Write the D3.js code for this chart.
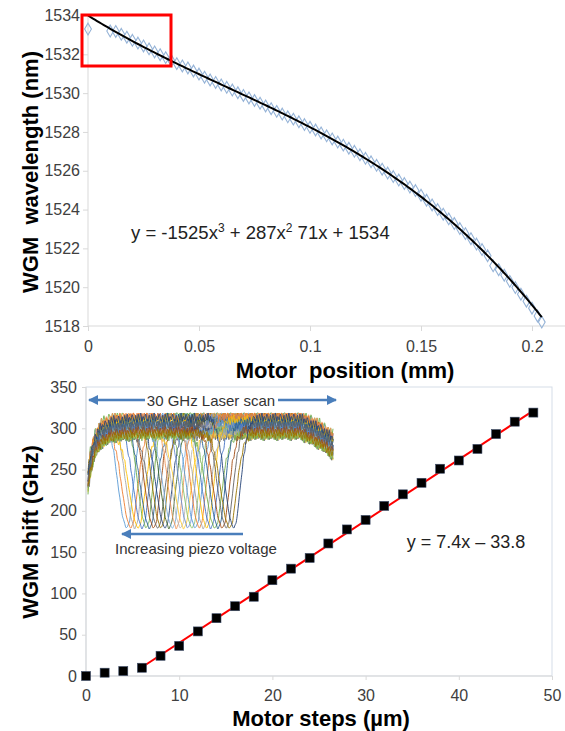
<!DOCTYPE html>
<html>
<head>
<meta charset="utf-8">
<script src="https://cdn.jsdelivr.net/npm/d3@7"></script>
<style>
  body { margin: 0; background: #fff; }
  text { font-family: "Liberation Sans", Arial, sans-serif; }
</style>
</head>
<body>
<script>
// ---- top chart: WGM wavelength vs motor position ----
const posX = [0, 0.010, 0.0125, 0.015, 0.0175, 0.02, 0.0225, 0.025, 0.0275, 0.03,
  0.0325, 0.035, 0.0375, 0.04, 0.0425, 0.045, 0.0475, 0.05, 0.0525, 0.055,
  0.0575, 0.06, 0.0625, 0.065, 0.0675, 0.07, 0.0725, 0.075, 0.0775, 0.08,
  0.0825, 0.085, 0.0875, 0.09, 0.0925, 0.095, 0.0975, 0.1, 0.1025, 0.105,
  0.1075, 0.11, 0.1125, 0.115, 0.1175, 0.12, 0.1225, 0.125, 0.1275, 0.13,
  0.1325, 0.135, 0.1375, 0.14, 0.1425, 0.145, 0.1475, 0.15, 0.1525, 0.155,
  0.1575, 0.16, 0.1625, 0.165, 0.1675, 0.17, 0.1725, 0.175, 0.1775, 0.18,
  0.1825, 0.185, 0.1875, 0.19, 0.1925, 0.195, 0.1975, 0.2, 0.2025, 0.2044];
const wavelength = [1533.30, 1533.20, 1533.18, 1533.03, 1532.88, 1532.72, 1532.58, 1532.43, 1532.28, 1532.12,
  1531.98, 1531.83, 1531.68, 1531.52, 1531.40, 1531.30, 1531.14, 1530.98, 1530.82, 1530.68,
  1530.55, 1530.42, 1530.30, 1530.16, 1530.02, 1529.88, 1529.75, 1529.62, 1529.48, 1529.34,
  1529.20, 1529.06, 1528.92, 1528.78, 1528.66, 1528.52, 1528.38, 1528.24, 1528.10, 1527.95,
  1527.80, 1527.64, 1527.48, 1527.32, 1527.16, 1527.00, 1526.82, 1526.64, 1526.46, 1526.28,
  1526.08, 1525.88, 1525.70, 1525.52, 1525.34, 1525.16, 1524.98, 1524.74, 1524.48, 1524.24,
  1524.00, 1523.76, 1523.52, 1523.28, 1523.02, 1522.76, 1522.50, 1522.22, 1521.94, 1521.62,
  1521.10, 1520.90, 1520.62, 1520.30, 1519.98, 1519.64, 1519.28, 1518.92, 1518.52, 1518.20];
const cubicFit = [-1525, 287, -71, 1534]; // x^3, x^2, x, 1
const posTicks = [0, 0.05, 0.1, 0.15, 0.2];
const wlTicks = [1518, 1520, 1522, 1524, 1526, 1528, 1530, 1532, 1534];

// ---- bottom chart: WGM shift vs motor steps ----
const steps = [0, 2, 4, 6, 8, 10, 12, 14, 16, 18, 20, 22, 24, 26, 28, 30, 32, 34, 36, 38, 40, 42, 44, 46, 48];
const shift = [0, 4, 6, 10, 24.5, 36.5, 54, 70, 84.5, 96, 116, 130, 143, 160.5, 177.5, 189, 206, 220, 234, 251, 261, 275, 293, 308, 319];
const linFit = [7.4, -33.8]; // slope, intercept
const linRange = [6, 48];
const stepTicks = [0, 10, 20, 30, 40, 50];
const shiftTicks = [0, 50, 100, 150, 200, 250, 300, 350];

// ---- inset: laser scan traces (GHz), one dip per piezo voltage ----
const dipCenters = [4.7, 5.2, 5.7, 6.1, 6.6, 7.1, 7.5, 8.0, 8.5, 8.9, 9.4, 9.9, 10.3, 10.8, 11.3,
  11.7, 12.2, 12.7, 13.1, 13.6, 14.1, 14.5, 15.0, 15.5, 15.9, 16.4, 16.9, 17.3, 17.8];
const traceLevels = [0.02, 0.12, 0.06, 0.18, 0.1, 0.0, 0.15, 0.08, 0.2, 0.04, 0.13, 0.07, 0.17, 0.01, 0.11,
  0.19, 0.05, 0.14, 0.09, 0.03, 0.16, 0.06, 0.12, 0.2, 0.08, 0.15, 0.1, 0.18, 0.04];
const dipShape = [[-2.8, 0], [-2.1, 0.1], [-1.5, 0.33], [-1.0, 0.62], [-0.5, 0.88], [0, 1],
  [0.4, 0.93], [0.8, 0.66], [1.3, 0.32], [1.9, 0.09], [2.6, 0]];
const edgeShape = [[0, 0.42], [0.3, 0.3], [0.8, 0.16], [1.6, 0.07], [3, 0.02], [6, 0], [26, 0], [28.5, 0.08], [30, 0.16]];
const ripple = [0, 0.03, -0.02, 0.04, -0.03, 0.02, -0.04, 0.03, -0.01, 0.02, -0.03];
const traceColors = ["#5b9bd5", "#ed7d31", "#a5a5a5", "#ffc000", "#4472c4", "#70ad47", "#255e91", "#9e480e",
  "#636363", "#997300", "#264478", "#43682b", "#7cafdd", "#f1975a", "#b7b7b7", "#ffcd33", "#698ed0", "#8cc168"];

const W = 565, H = 731;
const svg = d3.select('body').append('svg')
    .attr('width', W)
    .attr('height', H);

const axisGray = "#d9d9d9";
const labelColor = "#404040";
const tickFont = '16px';
const titleFont = '22px';

// ================= TOP CHART =================
const x1 = d3.scaleLinear().domain([0, 0.25]).range([88, 643]);
const y1 = d3.scaleLinear().domain([1518, 1534]).range([326, 15.5]);

const topG = svg.append('g');

topG.append('line')
    .attr('x1', 88).attr('x2', W)
    .attr('y1', y1(1518)).attr('y2', y1(1518))
    .attr('stroke', axisGray);
topG.append('line')
    .attr('x1', 88).attr('x2', 88)
    .attr('y1', y1(1534)).attr('y2', y1(1518))
    .attr('stroke', axisGray);

const gx1 = topG.append('g')
    .attr('transform', `translate(0,${y1(1518)})`)
    .call(d3.axisBottom(x1).tickValues(posTicks).tickSize(5).tickSizeOuter(0)
        .tickFormat(d => d3.format("~g")(d)));
const gy1 = topG.append('g')
    .attr('transform', 'translate(88,0)')
    .call(d3.axisLeft(y1).tickValues(wlTicks).tickSize(5).tickSizeOuter(0)
        .tickFormat(d3.format("d")));

[gx1, gy1].forEach(g => {
    g.select('.domain').remove();
    g.selectAll('.tick line').attr('stroke', axisGray);
    g.selectAll('.tick text')
        .attr('fill', labelColor)
        .style('font-size', tickFont)
        .style('font-family', '"Liberation Sans", Arial, sans-serif');
});
gx1.selectAll('.tick text').attr('dy', '1.1em');
gy1.selectAll('.tick text').attr('x', -8);

// data diamonds
const diamond = d3.symbol().type(d3.symbolDiamond).size(40);
topG.append('g')
    .selectAll('path')
    .data(posX.map((p, i) => ({ p: p, w: wavelength[i] })))
    .enter()
    .append('path')
    .attr('d', diamond)
    .attr('transform', d => `translate(${x1(d.p)},${y1(d.w)})`)
    .attr('fill', 'none')
    .attr('stroke', '#95b3d7')
    .attr('stroke-width', 1.1);

// cubic trendline from the printed coefficients
const fitX = d3.range(0, 201).map(i => i / 200 * posX[posX.length - 1]);
const cubic = p => cubicFit[0] * p * p * p + cubicFit[1] * p * p + cubicFit[2] * p + cubicFit[3];
topG.append('path')
    .datum(fitX)
    .attr('fill', 'none')
    .attr('stroke', '#000')
    .attr('stroke-width', 2)
    .attr('d', d3.line().x(d => x1(d)).y(d => y1(cubic(d))));

topG.append('text')
    .attr('x', 131).attr('y', 239)
    .attr('fill', '#222')
    .style('font-size', '18.5px')
    .html('y = -1525x<tspan dy="-7" font-size="12">3</tspan><tspan dy="7"> + 287x</tspan><tspan dy="-7" font-size="12">2</tspan><tspan dy="7"> 71x + 1534</tspan>');

// highlight box
topG.append('rect')
    .attr('x', 82).attr('y', 15)
    .attr('width', 89).attr('height', 51)
    .attr('fill', 'none')
    .attr('stroke', '#ff0000')
    .attr('stroke-width', 3);

topG.append('text')
    .attr('x', 345).attr('y', 378)
    .attr('text-anchor', 'middle')
    .attr('fill', '#000')
    .style('font-size', titleFont)
    .style('font-weight', 'bold')
    .style('white-space', 'pre')
    .text('Motor  position (mm)');

topG.append('text')
    .attr('transform', 'translate(38,172) rotate(-90)')
    .attr('text-anchor', 'middle')
    .attr('fill', '#000')
    .style('font-size', titleFont)
    .style('font-weight', 'bold')
    .style('white-space', 'pre')
    .text('WGM  wavelength (nm)');

// ================= BOTTOM CHART =================
const x2 = d3.scaleLinear().domain([0, 50]).range([86, 552]);
const y2 = d3.scaleLinear().domain([0, 350]).range([676, 387]);

const bot = svg.append('g');

bot.append('rect')
    .attr('x', x2(0)).attr('y', y2(350))
    .attr('width', x2(50) - x2(0)).attr('height', y2(0) - y2(350))
    .attr('fill', 'none')
    .attr('stroke', '#d5dde8');
bot.append('line')
    .attr('x1', x2(0)).attr('x2', x2(50))
    .attr('y1', y2(0)).attr('y2', y2(0))
    .attr('stroke', axisGray);
bot.append('line')
    .attr('x1', x2(0)).attr('x2', x2(0))
    .attr('y1', y2(0)).attr('y2', y2(350))
    .attr('stroke', axisGray);

const gx2 = bot.append('g')
    .attr('transform', `translate(0,${y2(0)})`)
    .call(d3.axisBottom(x2).tickValues(stepTicks).tickSize(4).tickSizeOuter(0));
const gy2 = bot.append('g')
    .attr('transform', `translate(${x2(0)},0)`)
    .call(d3.axisLeft(y2).tickValues(shiftTicks).tickSize(4).tickSizeOuter(0));

[gx2, gy2].forEach(g => {
    g.select('.domain').remove();
    g.selectAll('.tick line').attr('stroke', axisGray);
    g.selectAll('.tick text')
        .attr('fill', labelColor)
        .style('font-size', tickFont)
        .style('font-family', '"Liberation Sans", Arial, sans-serif');
});
gx2.selectAll('.tick text').attr('dy', '1.15em');
gy2.selectAll('.tick text').attr('x', -9);

// ---- inset picture of laser scan traces ----
const ix = d3.scaleLinear().domain([0, 30]).range([88, 333]);
const iy = d3.scaleLinear().domain([0, 1]).range([413, 529]);
const interp = (shape, v) => {
    if (v <= shape[0][0] || v >= shape[shape.length - 1][0]) {
        return v <= shape[0][0] ? shape[0][1] : shape[shape.length - 1][1];
    }
    const i = d3.bisector(d => d[0]).right(shape, v);
    const a = shape[i - 1], b = shape[i];
    return a[1] + (b[1] - a[1]) * (v - a[0]) / (b[0] - a[0]);
};
const scanPts = d3.range(0, 30.01, 0.15);
const inset = bot.append('g');
inset.selectAll('path')
    .data(dipCenters)
    .enter()
    .append('path')
    .attr('fill', 'none')
    .attr('stroke', (d, i) => traceColors[i % traceColors.length])
    .attr('stroke-width', 1)
    .attr('opacity', 0.9)
    .attr('d', (c, k) => d3.line()
        .curve(d3.curveMonotoneX)
        .x(v => ix(v))
        .y((v, j) => {
            const dip = interp(dipShape, v - c);
            const base = traceLevels[k] + interp(edgeShape, v) * 1.1 + ripple[(j + k * 3) % ripple.length] * (1 - dip);
            return iy(Math.max(0, Math.min(1, base * (1 - dip) + dip)));
        })
        (scanPts));

// arrows in the inset
const arrowBlue = '#4a7ebb';
const defs = svg.append('defs');
defs.append('marker')
    .attr('id', 'ah')
    .attr('viewBox', '0 0 10 10')
    .attr('refX', 9).attr('refY', 5)
    .attr('markerWidth', 4).attr('markerHeight', 4)
    .attr('orient', 'auto-start-reverse')
    .append('path')
    .attr('d', 'M0,0 L10,5 L0,10 z')
    .attr('fill', arrowBlue);

bot.append('line')
    .attr('x1', 145).attr('x2', 89)
    .attr('y1', 400).attr('y2', 400)
    .attr('stroke', arrowBlue).attr('stroke-width', 2.5)
    .attr('marker-end', 'url(#ah)');
bot.append('line')
    .attr('x1', 278).attr('x2', 336)
    .attr('y1', 400).attr('y2', 400)
    .attr('stroke', arrowBlue).attr('stroke-width', 2.5)
    .attr('marker-end', 'url(#ah)');
bot.append('text')
    .attr('x', 211).attr('y', 405.5)
    .attr('text-anchor', 'middle')
    .attr('fill', '#333')
    .style('font-size', '15px')
    .text('30 GHz Laser scan');

bot.append('line')
    .attr('x1', 243).attr('x2', 122)
    .attr('y1', 534).attr('y2', 534)
    .attr('stroke', arrowBlue).attr('stroke-width', 2.5)
    .attr('marker-end', 'url(#ah)');
bot.append('text')
    .attr('x', 196).attr('y', 554)
    .attr('text-anchor', 'middle')
    .attr('fill', '#333')
    .style('font-size', '15px')
    .text('Increasing piezo voltage');

// linear trendline
bot.append('line')
    .attr('x1', x2(linRange[0])).attr('y1', y2(linFit[0] * linRange[0] + linFit[1]))
    .attr('x2', x2(linRange[1])).attr('y2', y2(linFit[0] * linRange[1] + linFit[1]))
    .attr('stroke', '#ff0000')
    .attr('stroke-width', 2);

// square markers
bot.append('g')
    .selectAll('rect')
    .data(steps.map((s, i) => ({ s: s, v: shift[i] })))
    .enter()
    .append('rect')
    .attr('x', d => x2(d.s) - 4.5)
    .attr('y', d => y2(d.v) - 4.5)
    .attr('width', 9).attr('height', 9)
    .attr('fill', '#000')
    .attr('stroke', '#3b4a66')
    .attr('stroke-width', 0.6);

bot.append('text')
    .attr('x', 466).attr('y', 548)
    .attr('text-anchor', 'middle')
    .attr('fill', '#222')
    .style('font-size', '18px')
    .text('y = 7.4x \u2013 33.8');

bot.append('text')
    .attr('x', 321).attr('y', 726)
    .attr('text-anchor', 'middle')
    .attr('fill', '#000')
    .style('font-size', titleFont)
    .style('font-weight', 'bold')
    .text('Motor steps (\u00b5m)');

bot.append('text')
    .attr('transform', 'translate(38,532) rotate(-90)')
    .attr('text-anchor', 'middle')
    .attr('fill', '#000')
    .style('font-size', titleFont)
    .style('font-weight', 'bold')
    .text('WGM shift (GHz)');
</script>
</body>
</html>
